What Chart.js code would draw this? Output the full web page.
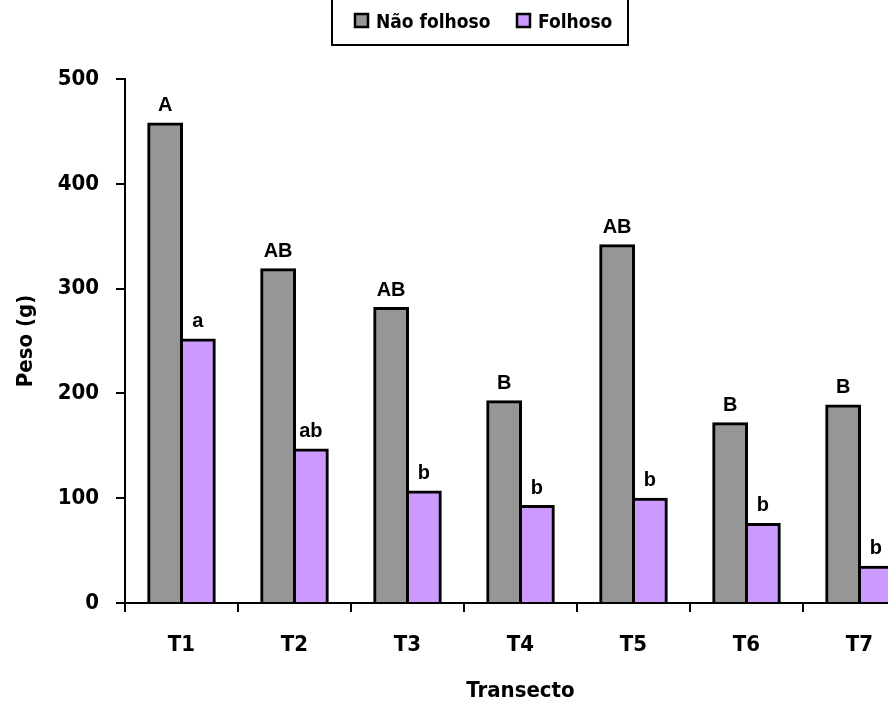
<!DOCTYPE html>
<html>
<head>
<meta charset="utf-8">
<script src="https://cdn.jsdelivr.net/npm/chart.js@4.4.0/dist/chart.umd.min.js"></script>
<style>
  body { margin: 0; background: #fff; overflow: hidden; }
  #wrap { width: 940px; height: 704px; }
</style>
</head>
<body>
<div id="wrap"><canvas id="grafico" width="940" height="704"></canvas></div>
<script>
// Dados
const transectos = ["T1", "T2", "T3", "T4", "T5", "T6", "T7"];
const naoFolhoso = [457, 318, 281, 192, 341, 171, 188];
const folhoso = [251, 146, 106, 92, 99, 75, 34];
const letrasNaoFolhoso = ["A", "AB", "AB", "B", "AB", "B", "B"];
const letrasFolhoso = ["a", "ab", "b", "b", "b", "b", "b"];
const yTicks = [0, 100, 200, 300, 400, 500];

const cinza = "#969696";
const lilas = "#cc99ff";
const fonte = "'DejaVu Sans Condensed', 'DejaVu Sans', Tahoma, sans-serif";

// letras de significância por cima das barras
const letrasPlugin = {
  id: "letras",
  afterDatasetsDraw(chart) {
    const ctx = chart.ctx;
    const letras = [letrasNaoFolhoso, letrasFolhoso];
    ctx.save();
    ctx.fillStyle = "#000";
    ctx.font = "bold 20px 'Liberation Sans', Arial, sans-serif";
    ctx.textAlign = "center";
    ctx.textBaseline = "alphabetic";
    letras.forEach((lista, d) => {
      chart.getDatasetMeta(d).data.forEach((bar, i) => {
        ctx.fillText(lista[i], bar.x, bar.y - 13);
      });
    });
    ctx.restore();
  }
};

// legenda com caixa (topo cortado)
const legendaPlugin = {
  id: "legendaCaixa",
  afterDraw(chart) {
    const ctx = chart.ctx;
    ctx.save();
    ctx.strokeStyle = "#000";
    ctx.lineWidth = 2;
    ctx.beginPath();
    ctx.moveTo(332, -5);
    ctx.lineTo(332, 45);
    ctx.lineTo(628, 45);
    ctx.lineTo(628, -5);
    ctx.stroke();

    const itens = [
      { txt: "Não folhoso", cor: cinza, x: 355 },
      { txt: "Folhoso", cor: lilas, x: 517 }
    ];
    ctx.font = "bold 19px " + fonte;
    ctx.textBaseline = "alphabetic";
    ctx.textAlign = "left";
    itens.forEach(it => {
      ctx.fillStyle = it.cor;
      ctx.fillRect(it.x, 14, 13, 13);
      ctx.lineWidth = 2.5;
      ctx.strokeRect(it.x, 14, 13, 13);
      ctx.fillStyle = "#000";
      ctx.fillText(it.txt, it.x + 21, 28);
    });
    ctx.restore();
  }
};

const ctx = document.getElementById("grafico").getContext("2d");
new Chart(ctx, {
  type: "bar",
  data: {
    labels: transectos,
    datasets: [
      {
        label: "Não folhoso",
        data: naoFolhoso,
        backgroundColor: cinza,
        borderColor: "#000",
        borderWidth: 3,
        inflateAmount: 1.5
      },
      {
        label: "Folhoso",
        data: folhoso,
        backgroundColor: lilas,
        borderColor: "#000",
        borderWidth: 3,
        inflateAmount: 1.5
      }
    ]
  },
  options: {
    responsive: false,
    animation: false,
    events: [],
    layout: { padding: { top: 79, right: 24, left: 0, bottom: 0 } },
    datasets: {
      bar: { categoryPercentage: 0.58, barPercentage: 1.0 }
    },
    plugins: {
      legend: { display: false },
      tooltip: { enabled: false }
    },
    scales: {
      x: {
        afterFit(scale) { scale.height = 101; },
        border: { color: "#000", width: 2 },
        grid: {
          display: true,
          drawOnChartArea: false,
          drawTicks: true,
          tickLength: 9,
          color: "#000",
          lineWidth: 2
        },
        ticks: {
          color: "#000",
          padding: 20,
          font: { family: fonte, size: 22, weight: "bold" }
        },
        title: {
          display: true,
          text: "Transecto",
          color: "#000",
          padding: { top: 0, bottom: 0 },
          font: { family: fonte, size: 22, weight: "bold" }
        }
      },
      y: {
        min: 0,
        max: 500,
        afterFit(scale) { scale.width = 125; },
        afterBuildTicks(scale) { scale.ticks = yTicks.map(v => ({ value: v })); },
        border: { color: "#000", width: 2 },
        grid: {
          display: true,
          drawOnChartArea: false,
          drawTicks: true,
          tickLength: 9,
          color: "#000",
          lineWidth: 2
        },
        ticks: {
          color: "#000",
          padding: 17,
          font: { family: fonte, size: 22, weight: "bold" }
        },
        title: {
          display: true,
          text: "Peso (g)",
          color: "#000",
          padding: { top: 13, bottom: 0 },
          font: { family: fonte, size: 22, weight: "bold" }
        }
      }
    }
  },
  plugins: [letrasPlugin, legendaPlugin]
});
</script>
</body>
</html>
